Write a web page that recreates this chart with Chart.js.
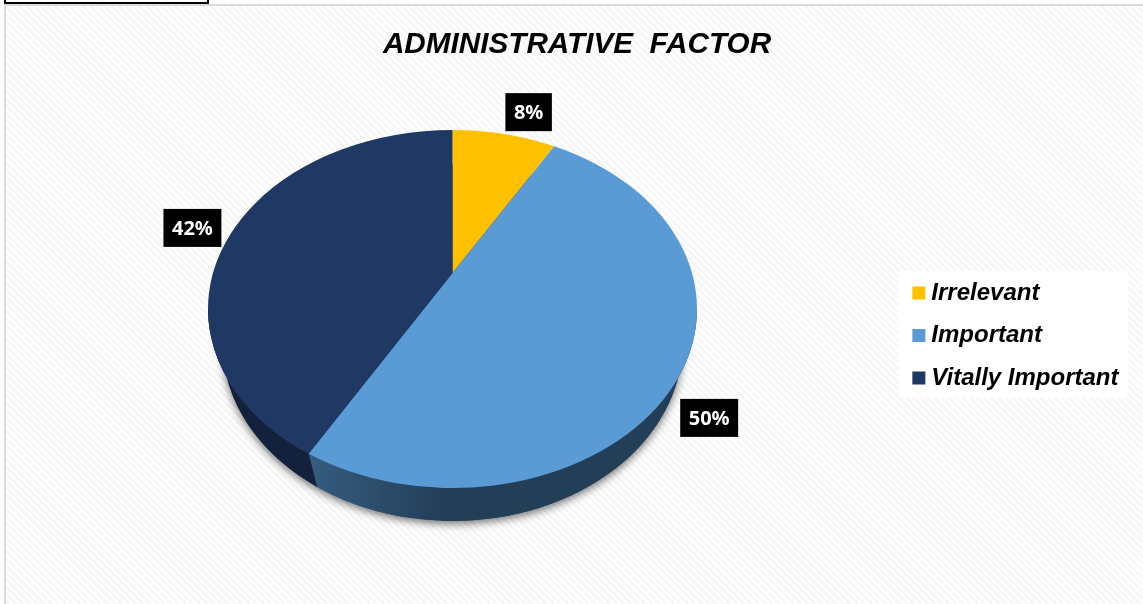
<!DOCTYPE html>
<html>
<head>
<meta charset="utf-8">
<script src="https://cdn.jsdelivr.net/npm/chart.js@4"></script>
<style>
  html, body { margin: 0; padding: 0; background: #fff; overflow: hidden; }
  #wrap { position: absolute; left: 0; top: 0; width: 1143px; height: 604px; }
  #paper { position: absolute; left: 4px; top: 4px; right: -4px; bottom: -4px; border: 2px solid #d9d9d9; box-sizing: border-box;
    background: repeating-linear-gradient(45deg, #ffffff 0 2.5px, #f6f6f6 2.5px 5px); }
  #tab { position: absolute; left: 4px; top: -4px; width: 205px; height: 8px; background: #fff; border: 2px solid #000; box-sizing: border-box; }
  canvas { position: absolute; left: 0; top: 0; }
</style>
</head>
<body>
<div id="wrap">
  <div id="paper"></div>
  <div id="tab"></div>
  <canvas id="chart" width="1143" height="604"></canvas>
</div>
<script>
var categories = ["Irrelevant", "Important", "Vitally Important"];
var percents = [8, 50, 42];
var colors = ["#FFC000", "#5B9BD5", "#1F3864"];
var sideFrom = ["#7F6000", "#365C7F", "#14213D"];
var sideTo = ["#7F6000", "#233F58", "#14213D"];

// where the pie sits and how it is flattened
var PIE_X = 452.5, PIE_Y = 309, PIE_RX = 244.5, PIE_RY = 179;
// the slices meet above the middle of the ellipse, the view is in perspective
var APEX_Y = 273;
// lower rim of the wall, a bit narrower than the top face
var WALL_Y = 343, WALL_RX = 230, WALL_RY = 178;
var DEG = Math.PI / 180;
// label nudges away from the slice's own anchor
var labelNudge = [[5, 6], [6, 8], [17, -29]];

function lean(a) {
  // angle from 12 o'clock, near side of the tilted disc takes more room
  var t = a + Math.PI / 2;
  return t - 11.9 * DEG * Math.sin(t) + 1.8 * DEG * Math.sin(2 * t) - Math.PI / 2;
}

var pie3d = {
  id: "pie3d",
  beforeDraw: function (chart) {
    var c = chart.ctx, l = chart.legend;
    c.save();
    c.fillStyle = "#fff";
    c.fillRect(l.left - 1, l.bottom - 137.5, l.width, 127);
    c.restore();
  },
  // paints the arcs the controller worked out, but on the tilted ellipse
  beforeDatasetDraw: function (chart) {
    var c = chart.ctx, arcs = chart.getDatasetMeta(0).data;
    // soft shadow under the disc
    c.save();
    c.shadowColor = "rgba(0,0,0,0.55)";
    c.shadowBlur = 9;
    c.shadowOffsetY = 3;
    c.fillStyle = "#233F58";
    c.beginPath();
    c.ellipse(PIE_X, WALL_Y, WALL_RX, WALL_RY, 0, 0, Math.PI * 2);
    c.fill();
    c.restore();
    // walls, only the part facing us
    arcs.forEach(function (arc, i) {
      var a = Math.max(lean(arc.startAngle), 0), b = Math.min(lean(arc.endAngle), Math.PI);
      if (b <= a) return;
      var xa = PIE_X + PIE_RX * Math.cos(b);
      var g = c.createLinearGradient(xa, 0, xa + 135, 0);
      g.addColorStop(0, sideFrom[i]);
      g.addColorStop(1, sideTo[i]);
      c.fillStyle = g;
      c.beginPath();
      c.ellipse(PIE_X, PIE_Y, PIE_RX, PIE_RY, 0, a, b);
      c.ellipse(PIE_X, WALL_Y, WALL_RX, WALL_RY, 0, b, a, true);
      c.closePath();
      c.fill();
    });
    // top face
    arcs.forEach(function (arc) {
      c.fillStyle = arc.options.backgroundColor;
      c.beginPath();
      c.moveTo(PIE_X, APEX_Y);
      c.ellipse(PIE_X, PIE_Y, PIE_RX, PIE_RY, 0, lean(arc.startAngle), lean(arc.endAngle));
      c.closePath();
      c.fill();
    });
    return false;
  },
  afterDraw: function (chart) {
    var c = chart.ctx;
    c.save();
    c.font = "bold 20px 'Noto Sans'";
    c.textAlign = "center";
    c.textBaseline = "middle";
    chart.getDatasetMeta(0).data.forEach(function (arc, i) {
      var mid = (arc.startAngle + arc.endAngle) / 2;
      var x = PIE_X + 1.17 * PIE_RX * Math.cos(mid) + labelNudge[i][0];
      var y = PIE_Y + 1.17 * PIE_RY * Math.sin(mid) + labelNudge[i][1];
      var txt = percents[i] + "%";
      var w = c.measureText(txt).width + 17;
      c.fillStyle = "#000";
      c.fillRect(x - w / 2, y - 19, w, 38);
      c.fillStyle = "#fff";
      c.fillText(txt, x, y + 1);
    });
    c.restore();
  }
};

Chart.register(pie3d);

var canvas = document.getElementById("chart").getContext("2d");
window.pie = new Chart(canvas, {
  type: "pie",
  data: {
    labels: categories,
    datasets: [{ data: percents, backgroundColor: colors, borderWidth: 0, radius: PIE_RX, clip: false }]
  },
  options: {
    responsive: false,
    animation: false,
    events: [],
    layout: { padding: { left: 25.5, right: 14.5, top: 18, bottom: 195.5 } },
    plugins: {
      tooltip: { enabled: false },
      title: {
        display: true,
        text: "ADMINISTRATIVE  FACTOR",
        color: "#000",
        font: { family: "'Liberation Sans'", size: 29.7, weight: "bold", style: "italic" },
        padding: { top: 9, bottom: 10 }
      },
      legend: {
        position: "right",
        align: "end",
        labels: {
          // thin box plus a thick outline gives a 13px swatch set close to the text
          boxWidth: 1,
          boxHeight: 1,
          padding: 18.5,
          color: "#000",
          font: { family: "'Liberation Sans'", size: 24, weight: "bold", style: "italic" },
          generateLabels: function (chart) {
            var items = Chart.overrides.pie.plugins.legend.labels.generateLabels(chart);
            items.forEach(function (it) {
              it.strokeStyle = it.fillStyle;
              it.lineWidth = 12;
            });
            return items;
          }
        }
      }
    }
  }
});
</script>
</body>
</html>
